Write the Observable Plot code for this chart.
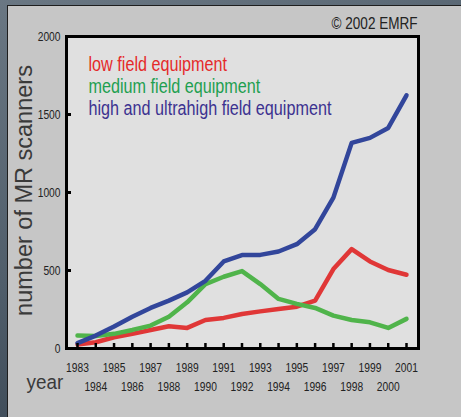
<!DOCTYPE html>
<html>
<head>
<meta charset="utf-8">
<script src="https://cdn.jsdelivr.net/npm/d3@7"></script>
<script src="https://cdn.jsdelivr.net/npm/@observablehq/plot@0.6"></script>
<style>
  html, body { margin: 0; padding: 0; }
  body { width: 461px; height: 417px; overflow: hidden; }
  #wrap { position: relative; width: 461px; height: 417px;
    background: linear-gradient(160deg, #6a7783 0%, #4f5d6a 50%, #2f3b47 100%); }
  #panel { position: absolute; left: 7px; top: 5px; right: -2px; bottom: -2px;
    background: #c6c6c6; border: 1.5px solid #1e1e1e; }
  #chart { position: absolute; left: 0; top: 0; }
</style>
</head>
<body>
<div id="wrap"><div id="panel"></div><div id="chart"></div></div>
<script>
const years = [1983,1984,1985,1986,1987,1988,1989,1990,1991,1992,1993,1994,1995,1996,1997,1998,1999,2000,2001];
const lowField    = [26, 40, 72, 94, 119, 143, 132, 183, 196, 221, 238, 253, 268, 307, 509, 637, 558, 503, 473];
const mediumField = [83, 80, 94, 119, 147, 204, 296, 413, 460, 496, 413, 318, 286, 260, 211, 183, 168, 132, 190];
const highField   = [34, 83, 141, 204, 260, 307, 360, 434, 558, 599, 600, 622, 669, 765, 967, 1318, 1350, 1414, 1623];
const seriesNames = ["low field equipment", "medium field equipment", "high and ultrahigh field equipment"];
const lineColors = ["#e03737", "#50b44b", "#32469b"];
const textColors = ["#e52a2a", "#1e9f50", "#3c3290"];
const yTicks = [0, 500, 1000, 1500, 2000];
const oddYears = years.filter(y => y % 2 === 1);
const evenYears = years.filter(y => y % 2 === 0);
const yTitle = "number of MR scanners";
const xTitle = "year";
const copyright = "© 2002 EMRF";

const font = "'Liberation Sans', Arial, sans-serif";

const rows = [];
[lowField, mediumField, highField].forEach((vals, i) =>
  vals.forEach((v, j) => rows.push({year: years[j], value: v, series: seriesNames[i]})));

const legendDy = [21, 43, 65];

const chart = Plot.plot({
  width: 461, height: 417,
  marginLeft: 66, marginRight: 43, marginTop: 36, marginBottom: 69,
  x: {domain: [1983, 2001], insetLeft: 11, insetRight: 12, label: null},
  y: {domain: [0, 2000], label: null},
  color: {domain: seriesNames, range: lineColors},
  style: {background: "transparent", fontFamily: font, color: "#222"},
  marks: [
    Plot.frame({fill: "#e0e0e0"}),
    Plot.line(rows, {x: "year", y: "value", z: "series", stroke: "series", strokeWidth: 4.5}),
    Plot.tickX(years, {x: d => d, insetTop: 307, stroke: "#000", strokeWidth: 2.5}),
    Plot.tickY(yTicks, {y: d => d, insetRight: 347, stroke: "#000", strokeWidth: 3}),
    Plot.frame({stroke: "#000", strokeWidth: 3}),
    Plot.axisY(yTicks, {tickSize: 0, tickPadding: 6, fontSize: 12.5, fill: "#222", tickFormat: d => String(d), label: null}),
    Plot.axisX(oddYears, {tickSize: 0, tickPadding: 15, fontSize: 12.5, fill: "#222", tickFormat: d => String(d), label: null}),
    Plot.axisX(evenYears, {tickSize: 0, tickPadding: 34, fontSize: 12.5, fill: "#222", tickFormat: d => String(d), label: null}),
    ...seriesNames.map((name, i) => Plot.text([name], {
      text: d => d, frameAnchor: "top-left", textAnchor: "start", lineAnchor: "top",
      dx: 22, dy: legendDy[i], fill: textColors[i], fontSize: 19.5
    })),
    Plot.text([yTitle], {text: d => d, frameAnchor: "left", rotate: -90, textAnchor: "middle",
      lineAnchor: "bottom", dx: -34.3, dy: -2, fontSize: 23.5, fill: "#3a3a3a"}),
    Plot.text([xTitle], {text: d => d, frameAnchor: "bottom-left", textAnchor: "start",
      lineAnchor: "bottom", dx: -40, dy: 40, fontSize: 20.5, fill: "#3a3a3a"}),
    Plot.text([copyright], {text: d => d, frameAnchor: "top-right", textAnchor: "end",
      lineAnchor: "bottom", dx: -1, dy: -8, fontSize: 16.5, fill: "#222"})
  ]
});
document.getElementById("chart").appendChild(chart);

// condense glyphs horizontally (the original uses a narrow typeface)
chart.querySelectorAll("text").forEach(t => {
  const s = t.textContent;
  let k;
  if (s === yTitle) return;
  else if (s === xTitle) k = 0.92;
  else if (s === copyright) k = 0.82;
  else if (seriesNames.includes(s)) k = 0.83;
  else k = 0.82;
  const len = t.getComputedTextLength();
  if (len > 0) {
    t.setAttribute("textLength", (len * k).toFixed(2));
    t.setAttribute("lengthAdjust", "spacingAndGlyphs");
  }
});
</script>
</body>
</html>
